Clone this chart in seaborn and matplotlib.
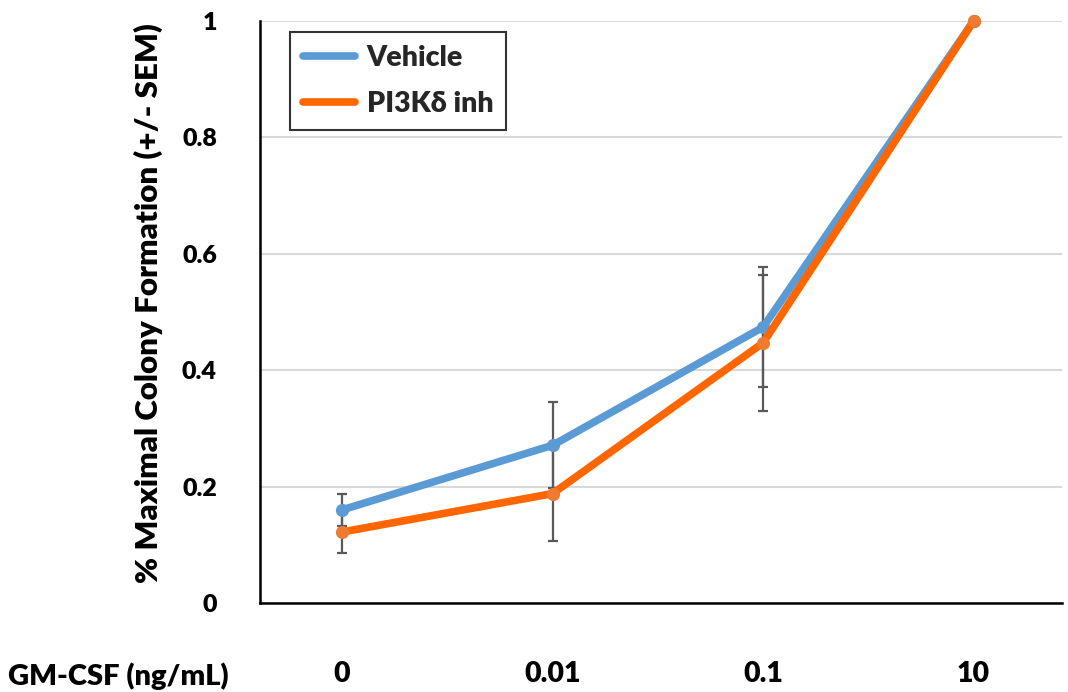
import numpy as np
import pandas as pd
import matplotlib
matplotlib.use("Agg")
import matplotlib.pyplot as plt
import seaborn as sns
from matplotlib.lines import Line2D

categories = ["0", "0.01", "0.1", "10"]
vehicle = [0.160, 0.271, 0.474, 1.0]
vehicle_sem = [0.027, 0.074, 0.103, 0.0]
pi3k = [0.122, 0.188, 0.447, 1.0]
pi3k_sem = [0.036, 0.081, 0.117, 0.0]
series_names = ["Vehicle", "PI3K\u03b4 inh"]
y_ticks = [0, 0.2, 0.4, 0.6, 0.8, 1.0]
y_tick_labels = ["0", "0.2", "0.4", "0.6", "0.8", "1"]
x_title = "GM-CSF (ng/mL)"
y_title = "% Maximal Colony Formation (+/- SEM)"

sns.set_theme(style="white")
plt.rcParams['font.family'] = ['Lato', 'DejaVu Sans']
WEIGHT = "heavy"

pos = np.arange(len(categories))
df = pd.DataFrame({
    "pos": np.concatenate([pos, pos]),
    "value": vehicle + pi3k,
    "series": [series_names[0]] * len(categories) + [series_names[1]] * len(categories),
})

W, H = 1068, 692
fig = plt.figure(figsize=(W / 100, H / 100), dpi=100)
ax = fig.add_axes([260 / W, 1 - 603 / H, (1062 - 260) / W, (603 - 21) / H])

ax.errorbar(pos, vehicle, yerr=vehicle_sem, fmt="none", ecolor="#595959",
            elinewidth=1.6, capsize=3.5, capthick=1.6, zorder=1, clip_on=False)
ax.errorbar(pos, pi3k, yerr=pi3k_sem, fmt="none", ecolor="#595959",
            elinewidth=1.6, capsize=3.5, capthick=1.6, zorder=1, clip_on=False)

palette = {series_names[0]: "#5B9BD5", series_names[1]: "#FF6600"}
sns.lineplot(data=df, x="pos", y="value", hue="series", palette=palette,
             linewidth=5.5, marker="o", markersize=9.5, markeredgewidth=0,
             ax=ax, legend=False, zorder=3, clip_on=False)
for ln in ax.get_lines():
    if ln.get_color() == "#FF6600":
        ln.set_markerfacecolor("#F07A30")

ax.set_xlim(-0.39, 3.42)
ax.set_ylim(0, 1.0)
ax.set_yticks(y_ticks)
ax.set_yticklabels(y_tick_labels)
ax.set_xticks(pos)
ax.set_xticklabels(categories)
ax.yaxis.grid(True, color="#D9D9D9", linewidth=1.5)
ax.xaxis.grid(False)
ax.set_axisbelow(True)

for s in ["top", "right"]:
    ax.spines[s].set_visible(False)
for s in ["left", "bottom"]:
    ax.spines[s].set_color("black")
    ax.spines[s].set_linewidth(1.8)

ax.tick_params(axis="y", direction="out", length=13, width=1.5, color="#D9D9D9",
               pad=18, labelsize=18, labelcolor="black")
ax.tick_params(axis="x", direction="out", length=18, width=1.5, color="black",
               pad=23.5, labelsize=20.5, labelcolor="black")
for t in ax.get_xticklabels() + ax.get_yticklabels():
    t.set_fontweight(WEIGHT)

ax.set_xlabel("")
ax.set_ylabel(y_title, fontsize=22.5, fontweight=WEIGHT, color="black")
ax.yaxis.set_label_coords((163 - 260) / (1062 - 260), (603 - 303) / (603 - 21))

fig.text(8 / W, 1 - 685 / H, x_title, ha="left", va="baseline",
         fontsize=21, fontweight=WEIGHT, color="black")

handles = [Line2D([0], [0], color=palette[n], linewidth=5.5) for n in series_names]
leg = ax.legend(handles, series_names, loc="upper left",
                bbox_to_anchor=((290 - 260) / (1062 - 260), 1 - (32 - 21) / (603 - 21)),
                frameon=True, fancybox=False, edgecolor="black", handlelength=1.85,
                borderpad=0.45, labelspacing=0.7, handletextpad=0.4,
                prop={"size": 20.5, "weight": WEIGHT}, borderaxespad=0)
leg.get_frame().set_linewidth(1.5)

fig.savefig("out.png", dpi=100)
